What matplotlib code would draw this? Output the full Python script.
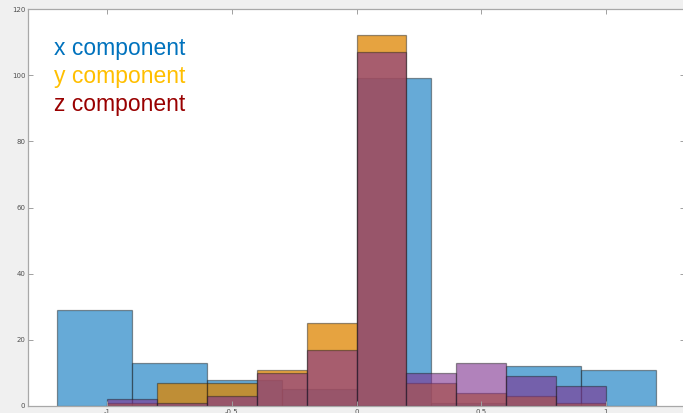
import numpy as np
import matplotlib.pyplot as plt

# bin edges and counts for the three components
x_edges = [-1.2, -0.9, -0.6, -0.3, 0.0, 0.3, 0.6, 0.9, 1.2]
x_counts = [29, 13, 8, 5, 99, 1, 12, 11]

y_edges = [-1.0, -0.8, -0.6, -0.4, -0.2, 0.0, 0.2, 0.4, 0.6, 0.8, 1.0]
y_counts = [1, 7, 7, 11, 25, 112, 7, 4, 3, 1]

z_edges = [-1.0, -0.8, -0.6, -0.4, -0.2, 0.0, 0.2, 0.4, 0.6, 0.8, 1.0]
z_counts = [2, 1, 3, 10, 17, 107, 10, 13, 9, 6]

x_ticks = [-1, -0.5, 0, 0.5, 1]
x_ticklabels = ['-1', '-0.5', '0', '0.5', '1']
y_ticks = [0, 20, 40, 60, 80, 100, 120]

fig = plt.figure(figsize=(6.83, 4.13), dpi=100)
fig.patch.set_facecolor('#f0f0f0')
ax = fig.add_axes([28/683, 7/413, 657/683, 397/413])

edge = (0.1, 0.1, 0.1, 0.45)
series = [
    (x_edges, x_counts, (0.0, 0.447, 0.741, 0.6)),
    (y_edges, y_counts, (0.87, 0.52, 0.0, 0.75)),
    (z_edges, z_counts, (0.494, 0.184, 0.557, 0.6)),
]
for edges, counts, face in series:
    edges = np.array(edges)
    ax.hist(edges[:-1], bins=edges, weights=counts, histtype='bar',
            facecolor=face, edgecolor=edge, linewidth=0.9)

ax.set_xlim(-1.317, 1.317)
ax.set_ylim(0, 120)
ax.set_xticks(x_ticks)
ax.set_xticklabels(x_ticklabels)
ax.set_yticks(y_ticks)
ax.tick_params(direction='in', length=3.6, width=0.7, colors='#a0a0a0',
               labelcolor='#505050', labelsize=5, top=True, right=True, pad=2)
for s in ax.spines.values():
    s.set_color('#a8a8a8')
    s.set_linewidth(0.9)

labels = ['x component', 'y component', 'z component']
colors = ['#0072BD', '#FFBF00', '#990000']
for i, (lab, col) in enumerate(zip(labels, colors)):
    fig.text(54/683, 1 - (55 + 28*i)/413, lab, color=col, fontsize=16.5,
             family='Liberation Sans', va='baseline', ha='left')

fig.savefig('out.png', dpi=100, facecolor=fig.get_facecolor())
